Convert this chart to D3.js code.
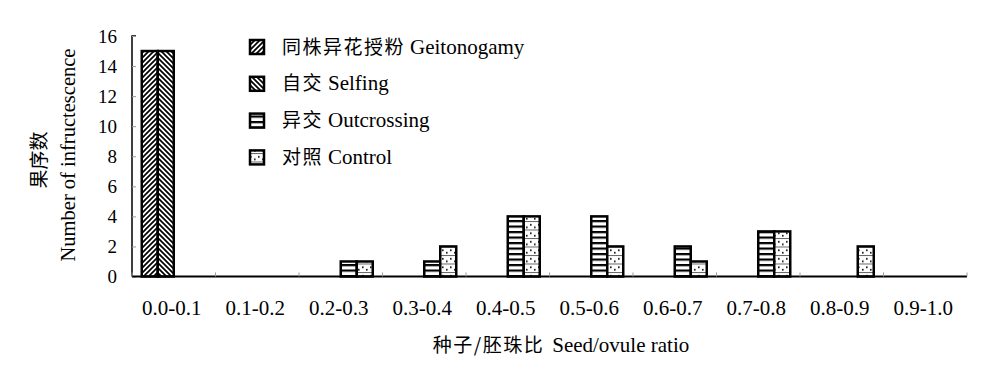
<!DOCTYPE html>
<html><head><meta charset="utf-8">
<script src="https://cdn.jsdelivr.net/npm/d3@7"></script>
<style>
body{margin:0;background:#fff;}
text, tspan{font-family:"Liberation Serif","Times New Roman",serif;fill:#000;}
.cjk{font-family:"Noto Sans CJK SC",sans-serif;}
</style></head>
<body><svg id="c" width="1000" height="382"></svg>
<script>
const categories = ["0.0-0.1","0.1-0.2","0.2-0.3","0.3-0.4","0.4-0.5","0.5-0.6","0.6-0.7","0.7-0.8","0.8-0.9","0.9-1.0"];
const seriesNames = [["同株异花授粉","Geitonogamy"],["自交","Selfing"],["异交","Outcrossing"],["对照","Control"]];
const geitonogamy = [15,0,0,0,0,0,0,0,0,0];
const selfing     = [15,0,0,0,0,0,0,0,0,0];
const outcrossing = [0,0,1,1,4,4,2,3,0,0];
const control     = [0,0,1,2,4,2,1,3,2,0];
const yTicks = [0,2,4,6,8,10,12,14,16];
const xTitle = ["种子/胚珠比","Seed/ovule ratio"];
const yTitle = ["果序数","Number of infructescence"];

(function(){
const SERIF = "'Liberation Serif','Times New Roman',serif";
const series = [geitonogamy, selfing, outcrossing, control];
const svg = d3.select("#c");
const defs = svg.append("defs");

function pat(id,w,h,draw){
  const p = defs.append("pattern").attr("id",id).attr("patternUnits","userSpaceOnUse").attr("width",w).attr("height",h);
  p.append("rect").attr("width",w).attr("height",h).attr("fill","#fff");
  draw(p);
}
pat("p0",5,5,p=>p.append("path").attr("d","M0,5L5,0M-1,1L1,-1M4,6L6,4").attr("stroke","#000").attr("stroke-width",1.7));
pat("p1",5,5,p=>p.append("path").attr("d","M0,0L5,5M-1,4L1,6M4,-1L6,1").attr("stroke","#000").attr("stroke-width",1.7));
pat("p2",6,5.5,p=>p.append("rect").attr("y",0).attr("width",6).attr("height",2.2).attr("fill","#000"));
pat("p3",8,8.5,p=>{
  p.append("rect").attr("y",0).attr("width",8).attr("height",1).attr("fill","#666");
  p.append("rect").attr("x",2).attr("y",3).attr("width",1.6).attr("height",1.6).attr("fill","#000");
  p.append("rect").attr("x",6).attr("y",5.5).attr("width",1.6).attr("height",1.6).attr("fill","#000");
});

const pLeft=132, pRight=967, pTop=36, pBottom=276.5;
const x0 = d3.scaleBand().domain(categories).range([pLeft,pRight]).padding(0);
const x1 = d3.scaleBand().domain(d3.range(4)).range([0,x0.bandwidth()]).paddingInner(0).paddingOuter(0.61);
const y = d3.scaleLinear().domain([0,16]).range([pBottom,pTop]);

series.forEach((vals,si)=>{
  svg.append("g").selectAll("rect").data(vals.map((v,i)=>({v,c:categories[i]})).filter(d=>d.v>0))
    .enter().append("rect")
    .attr("x",d=>x0(d.c)+x1(si))
    .attr("y",d=>y(d.v))
    .attr("width",x1.bandwidth())
    .attr("height",d=>y(0)-y(d.v))
    .attr("fill",`url(#p${si})`)
    .attr("stroke","#000").attr("stroke-width",2.5);
});

const yAxis = d3.axisLeft(y).tickValues(yTicks).tickSize(0).tickPadding(15);
const gy = svg.append("g").attr("transform",`translate(${pLeft},0)`).call(yAxis);
gy.select(".domain").attr("stroke","#000").attr("stroke-width",1.5).attr("d",`M4,${pTop}H0V${pBottom}`);
gy.selectAll(".tick text").attr("font-size",19).style("font-family",SERIF).attr("fill","#000");
gy.selectAll(".tick").append("line").attr("x1",0).attr("x2",4).attr("stroke","#999").attr("stroke-width",1);

const gx = svg.append("g").attr("transform",`translate(0,${pBottom})`);
gx.append("line").attr("x1",pLeft).attr("x2",pRight).attr("stroke","#000").attr("stroke-width",2);
gx.selectAll("line.tk").data(categories.concat(["end"])).enter().append("line").attr("class","tk")
  .attr("x1",(d,i)=>i<categories.length?x0(d):pRight).attr("x2",(d,i)=>i<categories.length?x0(d):pRight)
  .attr("y1",0).attr("y2",-4).attr("stroke","#999").attr("stroke-width",1);
gx.selectAll("text").data(categories).enter().append("text")
  .attr("x",d=>x0(d)+x0.bandwidth()/2-2).attr("y",38).attr("text-anchor","middle")
  .attr("font-size",21).style("font-family",SERIF).text(d=>d);

const xt = svg.append("text").attr("x",561).attr("y",352).attr("text-anchor","middle").attr("font-size",21);
xt.append("tspan").attr("class","cjk").attr("font-size",19).attr("letter-spacing",1.5).text(xTitle[0]);
xt.append("tspan").style("font-family",SERIF).attr("dx",8).text(xTitle[1]);

svg.append("text").attr("class","cjk").attr("transform","translate(46,160) rotate(-90)").attr("text-anchor","middle").attr("font-size",19).text(yTitle[0]);
svg.append("text").attr("transform","translate(75,155) rotate(-90)").attr("text-anchor","middle").attr("font-size",20.5).style("font-family",SERIF).text(yTitle[1]);

const lg = svg.append("g");
seriesNames.forEach((nm,i)=>{
  const cy = 47 + i*36.8;
  lg.append("rect").attr("x",250).attr("y",cy-7).attr("width",14).attr("height",14)
    .attr("fill",`url(#p${i})`).attr("stroke","#000").attr("stroke-width",2.5);
  const t = lg.append("text").attr("x",282).attr("y",cy+6.5).attr("font-size",21);
  t.append("tspan").attr("class","cjk").attr("font-size",19).attr("letter-spacing",1.5).text(nm[0]);
  t.append("tspan").style("font-family",SERIF).attr("dx",5).text(nm[1]);
});
})();
</script></body></html>
